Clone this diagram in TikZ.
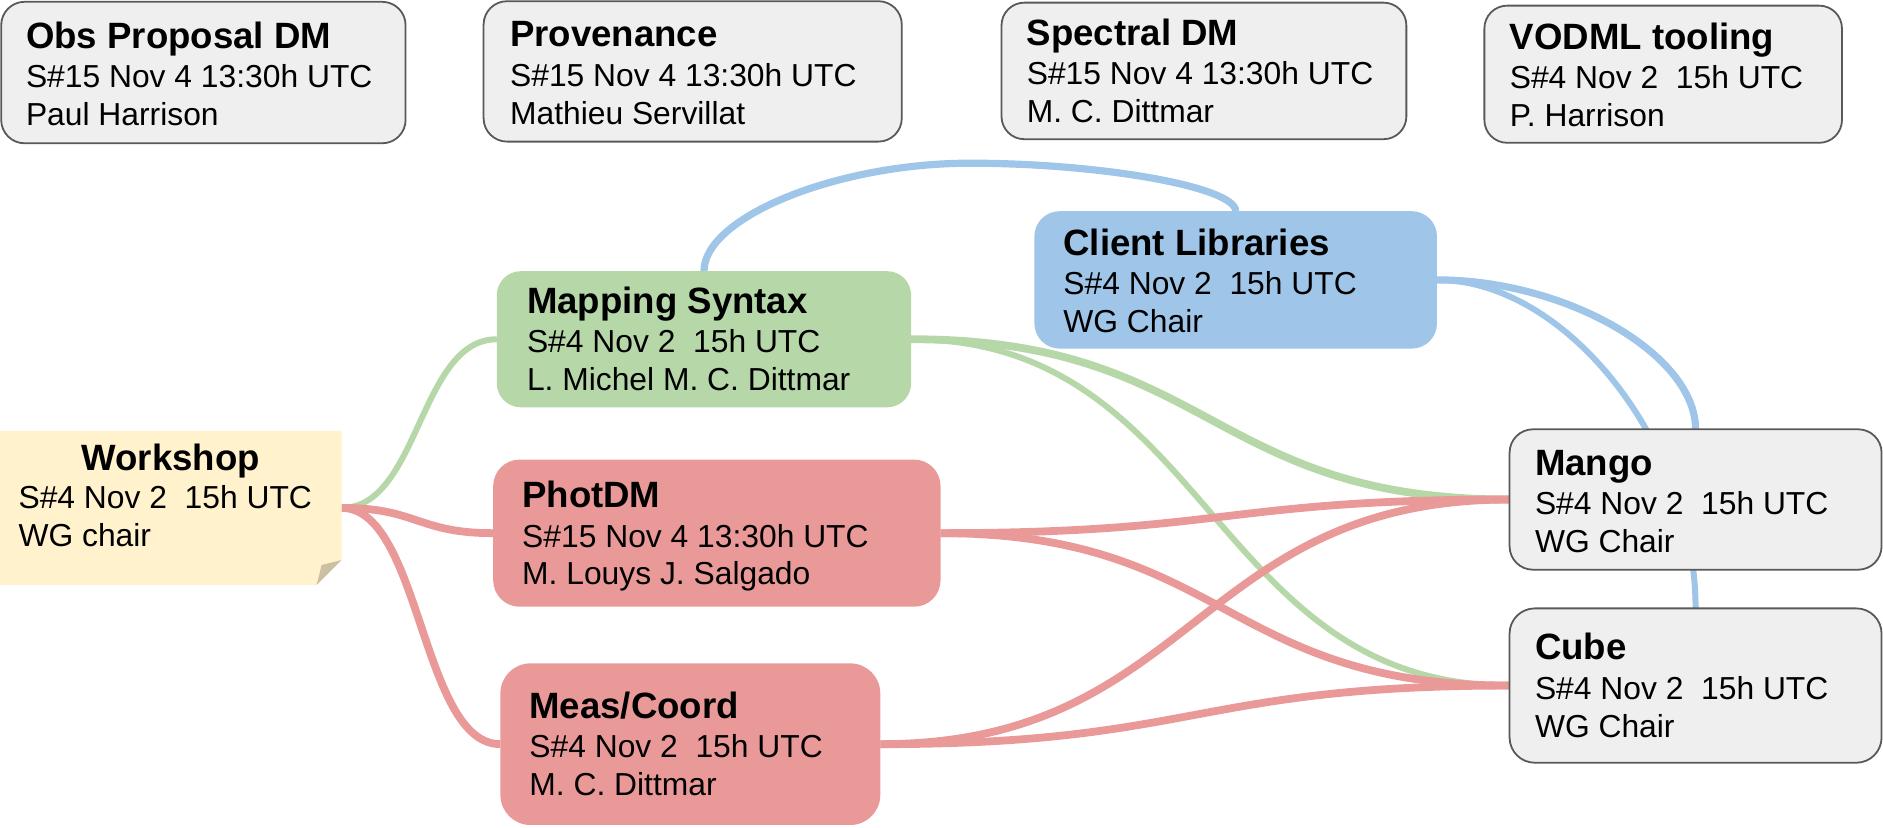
\documentclass[tikz,border=0pt]{standalone}
\usepackage{fontspec}
\setmainfont{Liberation Sans}
\usetikzlibrary{calc}
\definecolor{gfill}{HTML}{EFEFEF}
\definecolor{gedge}{HTML}{595959}
\definecolor{grn}{HTML}{B6D7A8}
\definecolor{rd}{HTML}{EA9999}
\definecolor{bl}{HTML}{9FC5E8}
\definecolor{yel}{HTML}{FFF2CC}
\definecolor{foldc}{HTML}{CBC09F}
\newcommand\titlef{\fontsize{30.5}{31.5}\selectfont\bfseries}
\newcommand\bodyf{\fontsize{26.5}{31.5}\selectfont}
\newcommand\cardtext[3]{\vtop{\baselineskip=31.5pt\hbox{\titlef #1}\vskip1.5pt\hbox{\bodyf #2}\hbox{\bodyf #3}}}
\pgfdeclarelayer{bg}
\pgfsetlayers{bg,main}
\begin{document}
\begin{tikzpicture}[x=1pt,y=-1pt,
  box/.style={rectangle, inner sep=0pt, outer sep=0pt},
  gbox/.style={box, fill=gfill, draw=gedge, line width=1.5pt},
  cbox/.style={box, fill=#1},
  txt/.style={inner sep=0pt, anchor=base west, text=black},
  conn/.style={line width=6.5pt},
  gline/.style={conn, draw=grn},
  rline/.style={conn, draw=rd},
  bline/.style={conn, draw=bl, line width=6pt},
  hcurve/.style={to path={let \p1=(\tikztostart), \p2=(\tikztotarget) in
     .. controls ({(\x1+\x2)/2},\y1) and ({(\x1+\x2)/2},\y2) .. (\p2)}},
  rtcurve/.style={to path={let \p1=(\tikztostart), \p2=(\tikztotarget) in
     .. controls ({(\x1+\x2)/2},\y1) and (\x2,{(\y1+\y2)/2}) .. (\p2)}}
]
\useasboundingbox (0,0) rectangle (1569.2,689.2);

% top row
\node[gbox, rounded corners=19.5pt, minimum width=337pt, minimum height=117.9pt] (obs) at (169.5,60.45) {};
\node[gbox, rounded corners=19.5pt, minimum width=348.5pt, minimum height=117pt] (pv) at (577.25,59.5) {};
\node[gbox, rounded corners=19pt, minimum width=337.4pt, minimum height=113.8pt] (sp) at (1003.3,59.1) {};
\node[gbox, rounded corners=19pt, minimum width=298pt, minimum height=114.3pt] (vo) at (1386,61.85) {};

% middle
\node[cbox=bl, rounded corners=21pt, minimum width=335.5pt, minimum height=114.5pt] (cl) at (1029.75,233.25) {};
\node[cbox=grn, rounded corners=20pt, minimum width=345.3pt, minimum height=113.4pt] (ms) at (586.65,282.7) {};
\node[cbox=rd, rounded corners=22pt, minimum width=372.8pt, minimum height=122.6pt] (ph) at (597.4,444.3) {};
\node[cbox=rd, rounded corners=25pt, minimum width=316.6pt, minimum height=134.7pt] (mc) at (575.3,620.15) {};
\node[gbox, rounded corners=19.5pt, minimum width=310pt, minimum height=117pt] (mg) at (1413,416.25) {};
\node[gbox, rounded corners=21pt, minimum width=310pt, minimum height=128.6pt] (cu) at (1413,571.3) {};

% workshop note
\node[box, minimum width=284.7pt, minimum height=128.5pt] (ws) at (142.35,423.25) {};
\fill[yel] (ws.north west) -- (ws.north east) -- ([yshift=20.8pt]ws.south east)
  -- ([xshift=-20.8pt]ws.south east) -- (ws.south west) -- cycle;
\fill[foldc] ([yshift=20.8pt]ws.south east) -- ([xshift=-20.8pt]ws.south east)
  -- ([xshift=-16.7pt,yshift=16.6pt]ws.south east) -- cycle;

% connectors
\coordinate (apex) at ($(ms.north)!.5!(cl.north)+(0,-65)$);
\begin{pgfonlayer}{bg}
\draw[gline, line width=5pt] (ws.east) to[hcurve] (ms.west);
\draw[gline] (ms.east) to[hcurve] (mg.west);
\draw[gline, line width=5pt] (ms.east) to[hcurve] (cu.west);
\draw[rline] (ws.east) to[hcurve] (ph.west);
\draw[rline] (ws.east) to[hcurve] (mc.west);
\draw[rline] (ph.east) to[hcurve] (mg.west);
\draw[rline] (ph.east) to[hcurve] (cu.west);
\draw[rline] (mc.east) to[hcurve] (mg.west);
\draw[rline] (mc.east) to[hcurve] (cu.west);
\draw[bline] let \p1=(ms.north), \p2=(cl.north), \p3=(apex) in
  (\p1) .. controls (\x1,{(\y1+\y3)/2}) and ({(\x1+\x3)/2},\y3) .. (\p3)
  .. controls ({(\x3+\x2)/2},\y3) and (\x2,{(\y2+\y3)/2}) .. (\p2);
\draw[bline] (cl.east) to[rtcurve] (mg.north);
\draw[bline, line width=5pt] (cl.east) to[rtcurve] (cu.north);
\end{pgfonlayer}

% texts
\node[txt] (obsT) at (21.5,40.3) {\cardtext{Obs Proposal DM}{S\#15 Nov 4 13:30h UTC}{Paul Harrison}};
\node[txt] (pvT) at (424.9,38.9) {\cardtext{Provenance}{S\#15 Nov 4 13:30h UTC}{Mathieu Servillat}};
\node[txt] (spT) at (855.5,37.5) {\cardtext{Spectral DM}{S\#15 Nov 4 13:30h UTC}{M. C. Dittmar}};
\node[txt] (voT) at (1258,41) {\cardtext{VODML tooling}{S\#4 Nov 2\ \ 15h UTC}{P. Harrison}};
\node[txt] (clT) at (886,212.5) {\cardtext{Client Libraries}{S\#4 Nov 2\ \ 15h UTC}{WG Chair}};
\node[txt] (msT) at (439,261) {\cardtext{Mapping Syntax}{S\#4 Nov 2\ \ 15h UTC}{L. Michel M. C. Dittmar}};
\node[txt] (phT) at (435,423) {\cardtext{PhotDM}{S\#15 Nov 4 13:30h UTC}{M. Louys J. Salgado}};
\node[txt] (mcT) at (441,598.6) {\cardtext{Meas/Coord}{S\#4 Nov 2\ \ 15h UTC}{M. C. Dittmar}};
\node[txt] (mgT) at (1279,396) {\cardtext{Mango}{S\#4 Nov 2\ \ 15h UTC}{WG Chair}};
\node[txt] (cuT) at (1279,550) {\cardtext{Cube}{S\#4 Nov 2\ \ 15h UTC}{WG Chair}};
\node[txt, anchor=base] (wsT) at (142.35,392) {\titlef Workshop};
\node[txt] (wsL) at (15.3,423.6) {\vtop{\baselineskip=31.5pt\hbox{\bodyf S\#4 Nov 2\ \ 15h UTC}\hbox{\bodyf WG chair}}};
\end{tikzpicture}
\end{document}
